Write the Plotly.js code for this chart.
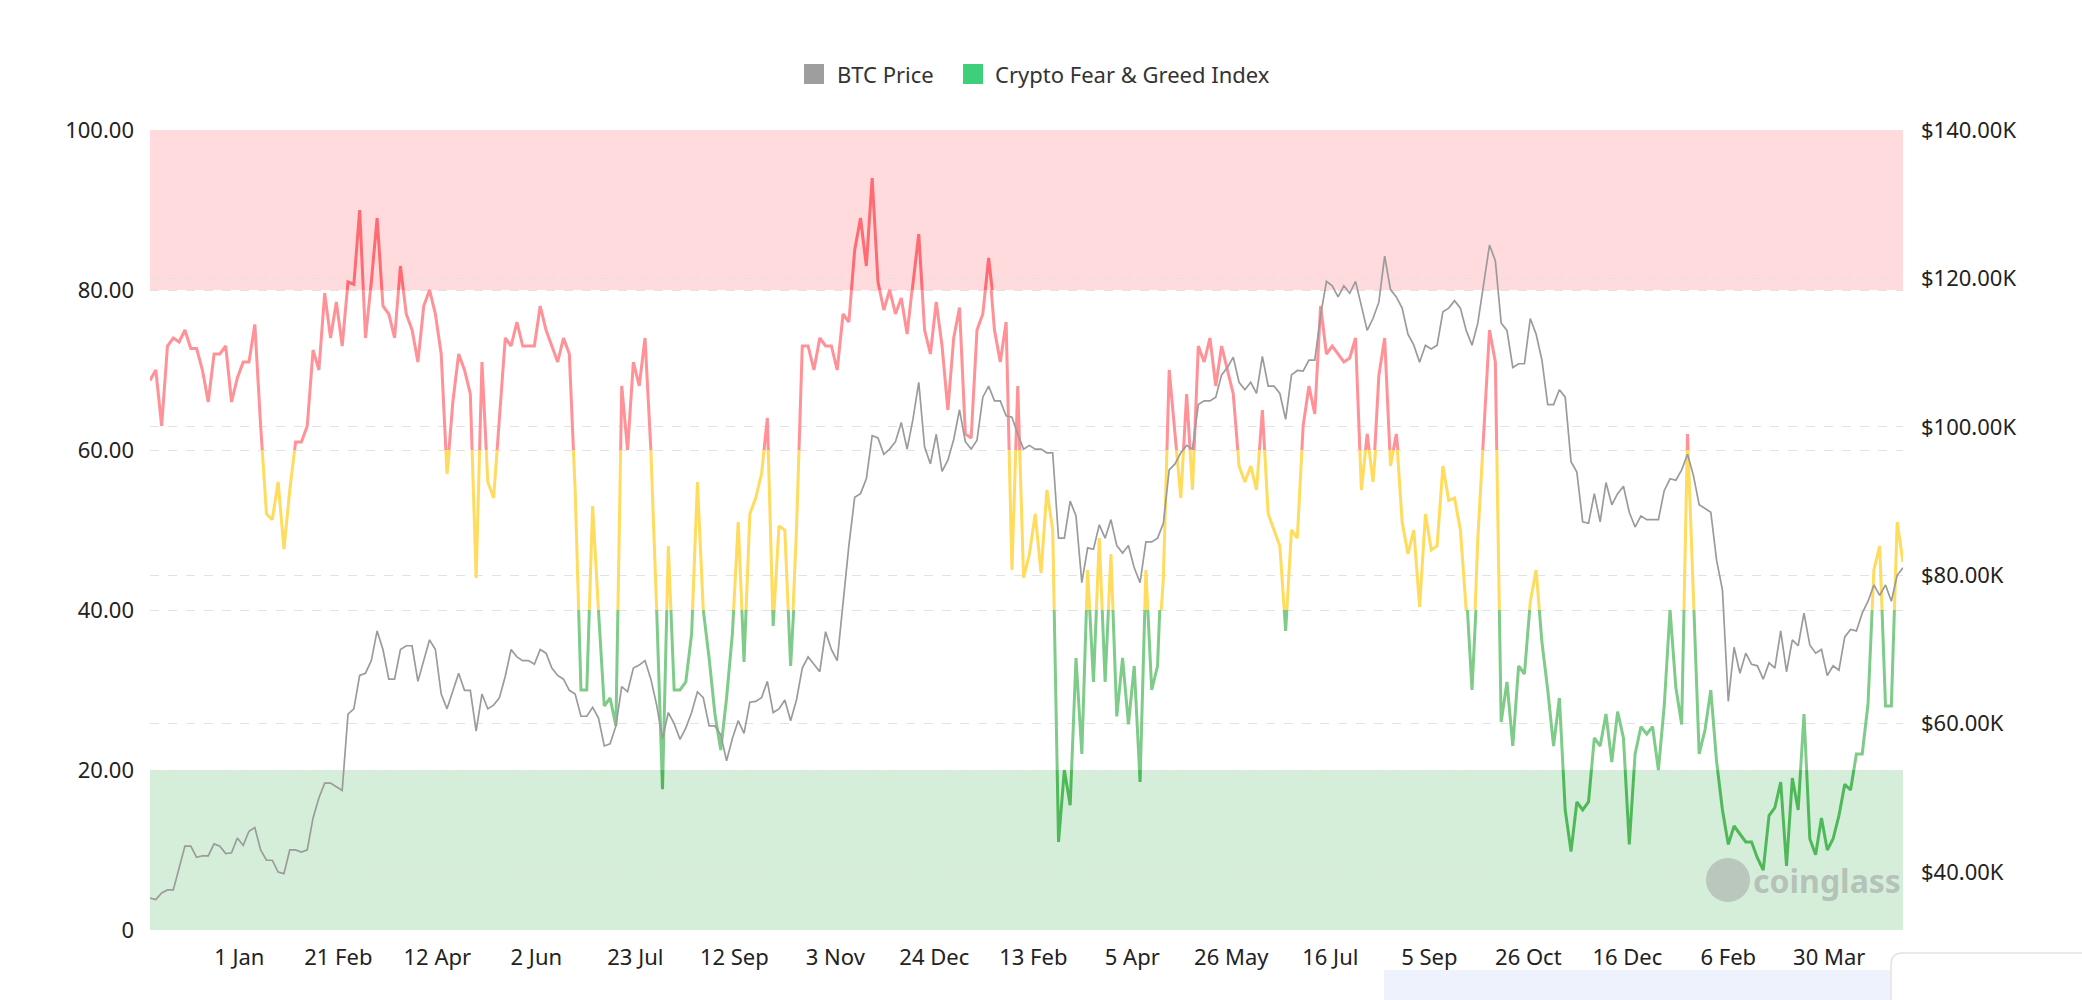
<!DOCTYPE html>
<html>
<head>
<meta charset="utf-8">
<script src="https://cdn.plot.ly/plotly-3.0.1.min.js"></script>
<style>
  html, body { margin: 0; padding: 0; background: #fff; }
  #chart { width: 2082px; height: 1000px; }
</style>
</head>
<body>
<div id="chart"></div>
<script>
// one sample every 3 days, starting 16 Nov 2023
var startDay = Date.UTC(2023, 10, 16);
var stepDays = 3;

// Crypto Fear & Greed Index
var fearGreed = [
  68.7,70,63,73,74,73.5,75,72.7,72.7,70,66,72,72,73,66,69,71,71,75.7,63,
  52,51.3,56,47.6,55,61,61,63,72.5,70,79.6,74,78.5,73,81,80.7,90,74,
  81,89,78,77,74,83,77,75,71,78,80,77,72,57,66,72,70,67,44,71,
  56,54,64,74,73,76,73,73,73,78,75,73,71,74,72,55,30,30,
  53,40,28,29,25.5,68,60,71,68,74,60,40,17.6,48,30,30,31,37,56,40,
  34,27,22.5,29,37,51,33.5,52,54,57,64,38,50.5,50,33,50,73,73,
  70,74,73,73,70,77,76,85,89,83,94,81,77.5,80,77,79,74.5,81,87,75,
  72,78.5,73,65,74,77.8,62,61.5,75,77,84,75,71,76,45,68,44,47,
  52,44.6,55,50,11,20,15.6,34,22,45,31,49,31,47,26.7,34,25.7,33,18.5,45,
  30,33,44,70,62,54,67,55,73,71,74,68,73,70,67,58,56,58,
  55,65,52,50,48,37.4,50,49,63,68,64.5,78,72,73,72,71,71.5,74,55,62,
  56,69.3,74,58,62,51,47,50,40.4,52,47.5,48,58,53.7,54,50,42.6,30,
  49,62,75,71,26,31,23,33,32,41,45,36,30,23,29,15,9.8,16,15,16,
  24,23,27,21,27.3,24,10.7,22,25.4,24.5,25.4,20,28,40,30.3,25.7,62,
  42,22,25,30,21,15,10.7,13,12,11,11,9,7.5,14.3,15.3,18.5,8,19,15,27,
  11.4,9.4,14,10,11.4,14.3,18.2,17.5,22,22,28.3,45,48,28,28,51,46
];

// BTC price, thousands of USD
var btcPriceK = [
  36.5,36.3,37.2,37.6,37.6,40.5,43.5,43.5,42.0,42.2,42.2,43.8,43.5,42.5,42.6,44.6,43.6,45.5,46.0,43.0,
  41.6,41.6,40.0,39.8,43.0,43.0,42.7,43.0,47.3,50.0,52.0,52.0,51.5,51.0,61.3,62.0,66.5,66.8,
  68.5,72.5,70,66,66,70,70.5,70.5,65.7,68.5,71.3,70,64,62,64.5,66.8,64.5,64.5,59,64,
  62,62.5,63.5,66.4,70,69,68.5,68.5,68,70,69.5,67.5,66.5,66,64.5,64,61,61,
  62.2,60.8,57,57.3,59.7,65,64.3,67.5,67.9,68.5,66,62.5,58,61.5,60,57.9,59.4,61.5,64.3,63.5,
  59.7,59.7,58.5,55,58,60.4,58.7,62.9,63,63.5,65.7,61.5,62,63.2,60.4,63.2,67.5,69,
  68,67,72.4,70,68.5,76.5,84,90.5,91,93,98.8,98.5,96.3,97,98,100.6,97,101,106,97.3,
  95,99,94,95.5,98.3,102.3,98,97,98.2,104,105.5,103.5,103.5,101.5,101.3,99,97,97.5,
  97,97,96.5,96.5,85,85,90,88,79,83.7,83.5,86.8,85,87.5,84,83,84,81,79,84.5,
  84.5,85,87,94.2,95,96.5,97.5,97,103,103.5,103.5,104,107,108,109.4,106,105,106,
  104.5,109.5,105.5,105.5,104.5,101,107,107.6,107.5,109,109,115,119.6,119,117.5,119,118,119.6,116.5,113,
  114.6,116.8,123,118.5,117.5,116,112.5,111,108.7,111,110.5,111,115.5,116,117,116,113,111,
  114,119.5,124.5,122.4,114,113,108,108.5,108.5,114.6,112.5,109,103,103,105,104,95.3,93.9,87.2,87,
  91,87.2,92.5,89.5,91,92,88.5,86.5,88,87.5,87.5,87.5,91.4,93,92.8,94.2,96.3,
  93.5,89.5,89,88.5,82,78,63,70.3,66.8,69.5,68,67.8,66,68.2,67.5,72.5,67,71.3,70.5,74.9,
  70.6,69.5,70,66.5,67.8,67.2,71.7,72.7,72.5,74.9,76.5,78.7,77.3,78.7,76.5,80,81
];

var tickDates = ['2024-01-01','2024-02-21','2024-04-12','2024-06-02','2024-07-23','2024-09-12',
  '2024-11-03','2024-12-24','2025-02-13','2025-04-05','2025-05-26','2025-07-16','2025-09-05',
  '2025-10-26','2025-12-16','2026-02-06','2026-03-30'];
var tickLabels = ['1 Jan','21 Feb','12 Apr','2 Jun','23 Jul','12 Sep','3 Nov','24 Dec','13 Feb',
  '5 Apr','26 May','16 Jul','5 Sep','26 Oct','16 Dec','6 Feb','30 Mar'];

var fgTicks = [0, 20, 40, 60, 80, 100];
var fgTickText = ['0', '20.00', '40.00', '60.00', '80.00', '100.00'];
var priceTicks = [40, 60, 80, 100, 120, 140];
var priceTickText = ['$40.00K', '$60.00K', '$80.00K', '$100.00K', '$120.00K', '$140.00K'];

// colour pieces of the index line (each one clipped to its own value band)
var fgPieces = [
  {axis: 'y3', lo: 0,  hi: 20,  color: '#4fb95a'},
  {axis: 'y4', lo: 20, hi: 40,  color: '#7fcb89'},
  {axis: 'y5', lo: 40, hi: 60,  color: '#ffdb5e'},
  {axis: 'y6', lo: 60, hi: 80,  color: '#ff9197'},
  {axis: 'y7', lo: 80, hi: 100, color: '#ff6a73'}
];

var dates = fearGreed.map(function(v, i) {
  return new Date(startDay + i * stepDays * 86400000).toISOString().slice(0, 10);
});

var data = [];
// keeps the right-hand price axis (y2) alive; drawn fully transparent
data.push({
  x: dates,
  y: btcPriceK,
  type: 'scatter',
  mode: 'lines',
  yaxis: 'y2',
  opacity: 0,
  line: {color: '#9b9b9b', width: 1},
  hoverinfo: 'skip',
  showlegend: false
});
fgPieces.forEach(function(p) {
  data.push({
    x: dates,
    y: fearGreed,
    type: 'scatter',
    mode: 'lines',
    yaxis: p.axis,
    line: {color: p.color, width: 3},
    hoverinfo: 'skip',
    showlegend: false
  });
});
// visible price line, on top of the index line
data.push({
  x: dates,
  y: btcPriceK,
  type: 'scatter',
  mode: 'lines',
  yaxis: 'y8',
  line: {color: '#9b9b9b', width: 1.7},
  hoverinfo: 'skip',
  showlegend: false
});

// pixel -> paper helpers (plot area 150..1903 x 130..930)
function px(X) { return (X - 150) / 1753; }
function py(Y) { return (930 - Y) / 800; }

var layout = {
  width: 2082,
  height: 1000,
  margin: {l: 150, r: 179, t: 130, b: 70, pad: 0},
  paper_bgcolor: '#ffffff',
  plot_bgcolor: 'rgba(0,0,0,0)',
  showlegend: false,
  font: {family: 'Noto Sans, sans-serif', size: 22, color: '#222'},
  xaxis: {
    type: 'date',
    range: [dates[0], dates[dates.length - 1]],
    tickvals: tickDates,
    ticktext: tickLabels,
    showgrid: false,
    zeroline: false,
    showline: false,
    ticks: '',
    ticklabelstandoff: 12,
    tickfont: {size: 22, color: '#222'},
    anchor: 'y'
  },
  yaxis: {
    range: [0, 100],
    tickvals: fgTicks,
    ticktext: fgTickText,
    gridcolor: '#e2e2e2',
    griddash: 'dash',
    gridwidth: 1,
    zeroline: false,
    showline: false,
    ticks: '',
    ticklabelstandoff: 15,
    tickfont: {size: 22, color: '#222'}
  },
  yaxis2: {
    overlaying: 'y',
    side: 'right',
    anchor: 'x',
    range: [32.2, 140],
    tickvals: priceTicks,
    ticktext: priceTickText,
    gridcolor: '#e2e2e2',
    griddash: 'dash',
    gridwidth: 1,
    zeroline: false,
    showline: false,
    ticks: '',
    ticklabelstandoff: 17,
    tickfont: {size: 22, color: '#222'}
  },
  yaxis8: {domain: [0, 1], range: [32.2, 140], visible: false, anchor: 'x', fixedrange: true},
  shapes: [
    {type: 'rect', xref: 'paper', yref: 'y', x0: 0, x1: 1, y0: 80, y1: 100,
      fillcolor: 'rgba(255,77,85,0.2)', line: {width: 0}, layer: 'between'},
    {type: 'rect', xref: 'paper', yref: 'y', x0: 0, x1: 1, y0: 0, y1: 20,
      fillcolor: 'rgba(46,170,70,0.2)', line: {width: 0}, layer: 'between'},
    // legend swatches
    {type: 'rect', xref: 'paper', yref: 'paper', x0: px(804), x1: px(824), y0: py(84), y1: py(64),
      fillcolor: '#9e9e9e', line: {width: 0}},
    {type: 'rect', xref: 'paper', yref: 'paper', x0: px(963), x1: px(983), y0: py(84), y1: py(64),
      fillcolor: '#3ecf7a', line: {width: 0}},
    // watermark logo
    {type: 'circle', xref: 'paper', yref: 'paper', x0: px(1706), x1: px(1750), y0: py(902), y1: py(858),
      fillcolor: 'rgba(150,150,150,0.45)', line: {width: 0}},
    // page elements cut off at the bottom edge
    {type: 'rect', xref: 'paper', yref: 'paper', x0: px(1384), x1: px(1890), y0: py(1000), y1: py(970),
      fillcolor: '#eef2fd', line: {width: 0}},
    {type: 'path', xref: 'paper', yref: 'paper',
      path: 'M ' + px(1891) + ',' + py(1010) + ' L ' + px(1891) + ',' + py(965) +
            ' Q ' + px(1891) + ',' + py(953) + ' ' + px(1903) + ',' + py(953) +
            ' L ' + px(2090) + ',' + py(953),
      line: {color: '#e2e2e2', width: 1.5}}
  ],
  annotations: [
    {xref: 'paper', yref: 'paper', x: px(835), y: py(74), xanchor: 'left', yanchor: 'middle',
      text: 'BTC Price', showarrow: false, font: {size: 22, color: '#333'}},
    {xref: 'paper', yref: 'paper', x: px(993), y: py(74), xanchor: 'left', yanchor: 'middle',
      text: 'Crypto Fear &amp; Greed Index', showarrow: false, font: {size: 22, color: '#333'}},
    {xref: 'paper', yref: 'paper', x: px(1903), y: py(880), xanchor: 'right', yanchor: 'middle',
      text: '<b>coinglass</b>', showarrow: false,
      font: {size: 32, color: 'rgba(150,150,150,0.5)'}}
  ]
};

// hidden axes that clip each colour piece to its band
fgPieces.forEach(function(p) {
  layout['yaxis' + p.axis.slice(1)] = {
    domain: [p.lo / 100, p.hi / 100],
    range: [p.lo, p.hi],
    visible: false,
    anchor: 'x',
    fixedrange: true
  };
});

Plotly.newPlot('chart', data, layout, {displayModeBar: false, staticPlot: true});
</script>
</body>
</html>
